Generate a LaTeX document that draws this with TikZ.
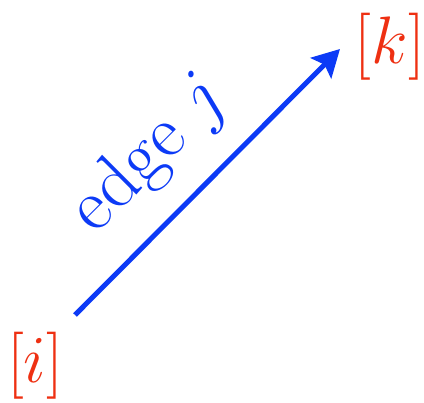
\documentclass[tikz,border=0pt]{standalone}
\usetikzlibrary{arrows.meta}
\definecolor{nodered}{RGB}{238,48,18}
\definecolor{edgeblue}{RGB}{12,58,246}
\newcommand{\bigtext}[2]{\scalebox{#1}{\Huge #2}}
\begin{document}
\begin{tikzpicture}[x=1pt,y=-1pt,
  vert/.style={text=nodered,inner sep=0pt},
  edgearrow/.style={draw=edgeblue,line width=5pt,-{Stealth[length=27pt,width=29pt,inset=5pt]}},
  edgelabel/.style={text=edgeblue,rotate=45,inner sep=0pt}]
\useasboundingbox (0,0) rectangle (424,403);
\node[vert] (i) at (35,366) {\bigtext{2.7}{$[i]$}};
\node[vert] (k) at (390,47) {\bigtext{2.7}{$[k]$}};
\coordinate (s) at (75,315);
\coordinate (t) at (340,49);
\draw[edgearrow] (s) -- (t);
\node[edgelabel] (lab) at (150,155) {\bigtext{3.0}{edge $j$}};
\end{tikzpicture}
\end{document}
